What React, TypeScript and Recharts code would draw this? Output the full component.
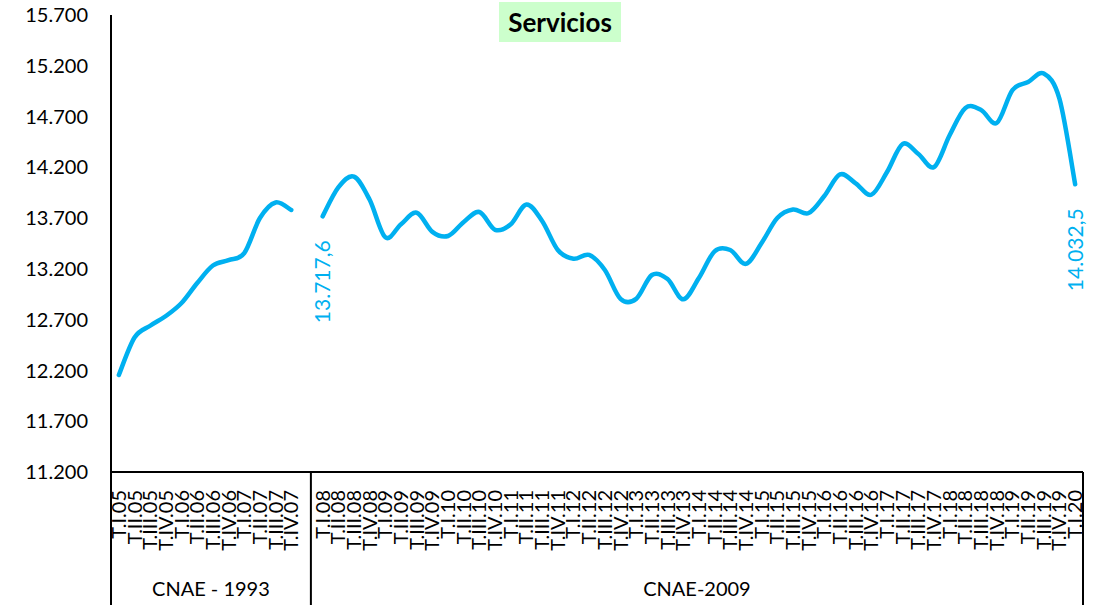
import React from "react";
import { LineChart, Line, XAxis, YAxis } from "recharts";

const quarterNames = ["T.I", "T.II", "T.III", "T.IV"];
const years1993 = ["05", "06", "07"];
const years2009 = ["08", "09", "10", "11", "12", "13", "14", "15", "16", "17", "18", "19"];
const lastQuarter = "T.I.20";

// Ocupados en servicios (miles)
const cnae1993 = [12155, 12524, 12640, 12736, 12864, 13061, 13233, 13287, 13356, 13701, 13854, 13780];
const cnae2009 = [
  13717.6, 14002, 14108, 13880, 13511, 13640, 13753, 13565, 13524, 13662,
  13760, 13585, 13640, 13835, 13672, 13386, 13300, 13337, 13189, 12905,
  12905, 13140, 13100, 12900, 13110, 13373, 13386, 13250, 13455, 13701,
  13785, 13750, 13918, 14130, 14043, 13930, 14154, 14430, 14331, 14203,
  14518, 14784, 14765, 14637, 14961, 15040, 15124, 14873, 14032.5,
];
const yTicks = [11200, 11700, 12200, 12700, 13200, 13700, 14200, 14700, 15200, 15700];
const groupNames = ["CNAE - 1993", "CNAE-2009"];
const title = "Servicios";

const labels1993 = years1993.flatMap((y) => quarterNames.map((q) => `${q}.${y}`));
const labels2009 = [...years2009.flatMap((y) => quarterNames.map((q) => `${q}.${y}`)), lastQuarter];

const data = [
  ...labels1993.map((cat, i) => ({ cat, cnae1993: cnae1993[i], cnae2009: null as number | null })),
  { cat: "", cnae1993: null as number | null, cnae2009: null as number | null },
  ...labels2009.map((cat, i) => ({ cat, cnae1993: null as number | null, cnae2009: cnae2009[i] })),
];

const CHART_W = 1106;
const CHART_H = 612;
const PLOT_LEFT = 111;
const PLOT_RIGHT = 1083;
const PLOT_TOP = 15;
const PLOT_BOTTOM = 472;
const X_AXIS_H = CHART_H - PLOT_BOTTOM;
const STEP = (PLOT_RIGHT - PLOT_LEFT) / data.length;
const FONT = "Lato, Carlito, Calibri, sans-serif";
const BLUE = "#00b0f0";

const first2009 = data.findIndex((d) => d.cnae2009 != null);
const last2009 = data.length - 1;

const thousands = (v: number) => String(Math.round(v)).replace(/\B(?=(\d{3})+(?!\d))/g, ".");
const esNumber = (v: number) => {
  const [int, dec] = v.toFixed(1).split(".");
  return `${thousands(Number(int))},${dec}`;
};

// Excel-like smoothed line (uniform Catmull-Rom)
const excelSmooth = (context: any) => {
  let pts: number[][] = [];
  return {
    areaStart() {},
    areaEnd() {},
    lineStart() {
      pts = [];
    },
    lineEnd() {
      const n = pts.length;
      if (!n) return;
      context.moveTo(pts[0][0], pts[0][1]);
      for (let i = 0; i < n - 1; i++) {
        const p0 = pts[i - 1] || pts[i];
        const p1 = pts[i];
        const p2 = pts[i + 1];
        const p3 = pts[i + 2] || p2;
        context.bezierCurveTo(
          p1[0] + (p2[0] - p0[0]) / 6,
          p1[1] + (p2[1] - p0[1]) / 6,
          p2[0] - (p3[0] - p1[0]) / 6,
          p2[1] - (p3[1] - p1[1]) / 6,
          p2[0],
          p2[1]
        );
      }
    },
    point(x: number, y: number) {
      pts.push([+x, +y]);
    },
  };
};

function CategoryTick(props: any) {
  const { x, y, payload, index } = props;
  const label = payload?.value as string;
  const ty = y + 18;
  const lineEnd = y + 133;
  if (!label) {
    // blank slot between the two classifications: separators and group names
    const sepX = x + STEP / 4;
    const left = x - index * STEP - STEP / 2;
    const right = x + (data.length - 1 - index) * STEP + STEP / 2;
    const lineStyle = { stroke: "#000", strokeWidth: 2 };
    return (
      <g>
        <line x1={left} x2={left} y1={y} y2={lineEnd} {...lineStyle} />
        <line x1={sepX} x2={sepX} y1={y} y2={lineEnd} {...lineStyle} />
        <line x1={right} x2={right} y1={y} y2={lineEnd} {...lineStyle} />
        <text x={(left + sepX) / 2} y={y + 124} textAnchor="middle" fontSize={20} fontFamily={FONT} fill="#000">
          {groupNames[0]}
        </text>
        <text x={(sepX + right) / 2} y={y + 124} textAnchor="middle" fontSize={20} fontFamily={FONT} fill="#000">
          {groupNames[1]}
        </text>
      </g>
    );
  }
  return (
    <text
      x={x}
      y={ty}
      dy="0.35em"
      transform={`rotate(-90, ${x}, ${ty})`}
      textAnchor="end"
      fontSize={20}
      fontFamily={FONT}
      fill="#000"
    >
      {label}
    </text>
  );
}

function EndLabel(props: any) {
  const { x, y, index, value } = props;
  if (value == null || (index !== first2009 && index !== last2009)) return null;
  const ty = y + 24;
  return (
    <text
      x={x}
      y={ty}
      dy="0.35em"
      transform={`rotate(-90, ${x}, ${ty})`}
      textAnchor="end"
      fontSize={21}
      fontFamily={FONT}
      fill={BLUE}
    >
      {esNumber(Number(value))}
    </text>
  );
}

export default function App() {
  return (
    <div style={{ position: "absolute", left: 0, top: 0, width: CHART_W, height: CHART_H, background: "#fff" }}>
      <LineChart
        width={CHART_W}
        height={CHART_H}
        data={data}
        margin={{ top: PLOT_TOP, right: CHART_W - PLOT_RIGHT, bottom: CHART_H - PLOT_BOTTOM - X_AXIS_H, left: 0 }}
      >
        <XAxis
          dataKey="cat"
          interval={0}
          height={X_AXIS_H}
          padding={{ left: STEP / 2, right: STEP / 2 }}
          axisLine={{ stroke: "#000", strokeWidth: 2 }}
          tickLine={false}
          tickSize={0}
          tickMargin={0}
          tick={<CategoryTick />}
        />
        <YAxis
          width={PLOT_LEFT}
          type="number"
          domain={[11200, 15700]}
          ticks={yTicks}
          interval={0}
          axisLine={{ stroke: "#000", strokeWidth: 2 }}
          tickLine={false}
          tickSize={0}
          tickMargin={23}
          tickFormatter={thousands}
          tick={{ fill: "#000", fontSize: 20, fontFamily: FONT }}
        />
        <Line
          dataKey="cnae1993"
          type={excelSmooth as any}
          stroke={BLUE}
          strokeWidth={4.5}
          strokeLinecap="round"
          dot={false}
          activeDot={false}
          isAnimationActive={false}
        />
        <Line
          dataKey="cnae2009"
          type={excelSmooth as any}
          stroke={BLUE}
          strokeWidth={4.5}
          strokeLinecap="round"
          dot={false}
          activeDot={false}
          isAnimationActive={false}
          label={EndLabel}
        />
      </LineChart>
      <div
        style={{
          position: "absolute",
          left: 499,
          top: 2,
          width: 122,
          height: 40,
          background: "#ccffcc",
          fontFamily: FONT,
          fontWeight: 700,
          fontSize: 26,
          lineHeight: "40px",
          textAlign: "center",
          color: "#000",
        }}
      >
        {title}
      </div>
    </div>
  );
}
